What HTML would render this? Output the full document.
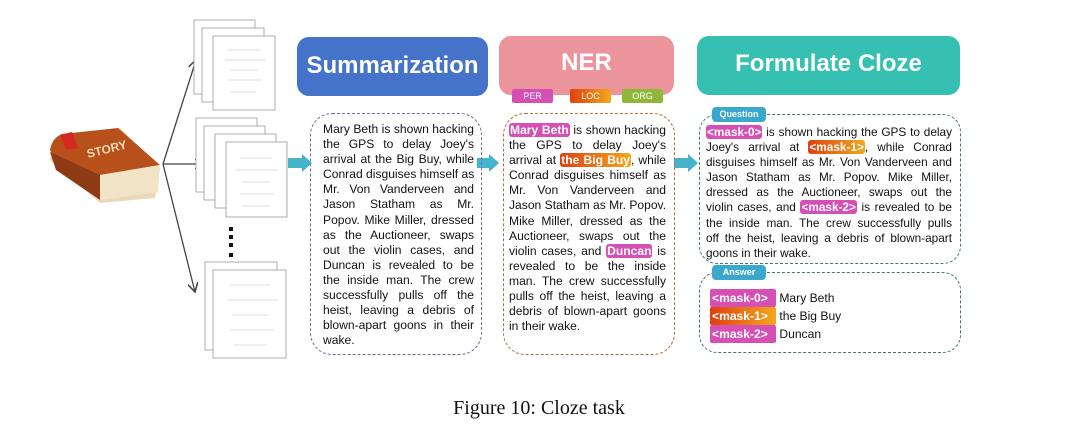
<!DOCTYPE html>
<html><head><meta charset="utf-8"><style>
body{margin:0;width:1078px;height:446px;background:#fff;position:relative;overflow:hidden;font-family:"Liberation Sans",sans-serif}
.abs{position:absolute}
.hdr{position:absolute;border-radius:12px;color:#fff;font-weight:bold;font-size:24px;text-align:center;line-height:58px}
.box{position:absolute;border:1.5px dashed;border-radius:22px}
.tx{position:absolute;font-size:12.1px;line-height:15.1px;color:#111}
.tx div{text-align:justify;text-align-last:justify;white-space:nowrap}
.tx div.l{text-align-last:left}
.hl{color:#fff;font-weight:bold;border-radius:3px;padding:0 1px}
.pe{background:#d64fb5}.lo{background:linear-gradient(90deg,#e0400f,#f2a81c)}
.tag{position:absolute;color:#fff;font-size:9px;text-align:center;line-height:14px;height:14px;border-radius:2px}
.lab{position:absolute;background:#3aa8cc;color:#fff;font-size:9px;font-weight:bold;text-align:center;border-radius:4px;height:15px;line-height:15px}
.m{display:inline-block;color:#fff;font-weight:bold;border-radius:2px;padding:0 2px}
</style></head><body>
<svg class="abs" style="left:0;top:0" width="1078" height="446">
<defs><marker id="a" markerWidth="8" markerHeight="8" refX="7" refY="4" orient="auto"><path d="M0,0 L7,4 L0,8" fill="none" stroke="#444" stroke-width="1.2"/></marker></defs>
<path d="M55,140 L120,128 L160,168 L155,198 L100,203 L50,160 Z" fill="#e9d9b8"/>
<path d="M50,150 Q52,138 62,134 L118,128 L160,165 L100,175 L55,160 Z" fill="#b8501c"/>
<path d="M100,175 L160,165 L158,192 L100,200 Z" fill="#f1e4c6"/>
<path d="M50,152 L100,175 L100,200 L56,170 Z" fill="#8e3a14"/>
<path d="M60,135 L72,132 L78,148 L66,150 Z" fill="#d62a20"/>
<text x="88" y="158" transform="rotate(-14 88 158)" font-size="12" font-weight="bold" fill="#f5d9b4">STORY</text>
<line x1="163" y1="164" x2="196" y2="60" stroke="#444" stroke-width="1.3" marker-end="url(#a)"/>
<line x1="163" y1="164" x2="204" y2="164" stroke="#444" stroke-width="1.3" marker-end="url(#a)"/>
<line x1="163" y1="164" x2="195" y2="292" stroke="#444" stroke-width="1.3" marker-end="url(#a)"/>
<g fill="#fff" stroke="#999" stroke-width="0.8">
<rect x="194" y="20" width="61" height="74"/><rect x="202" y="28" width="62" height="74"/><rect x="213" y="36" width="62" height="74"/>
<rect x="196" y="118" width="61" height="74"/><rect x="204" y="126" width="61" height="74"/><rect x="215" y="134" width="61" height="74"/><rect x="226" y="142" width="61" height="75"/>
<rect x="205" y="262" width="72" height="88"/><rect x="213" y="270" width="73" height="88"/>
</g>
<g stroke="#bbb" stroke-width="0.6">
<line x1="228" y1="50" x2="260" y2="50"/><line x1="225" y1="60" x2="265" y2="60"/><line x1="230" y1="70" x2="258" y2="70"/><line x1="228" y1="80" x2="262" y2="80"/><line x1="230" y1="92" x2="256" y2="92"/>
<line x1="240" y1="158" x2="272" y2="158"/><line x1="236" y1="170" x2="278" y2="170"/><line x1="242" y1="182" x2="270" y2="182"/><line x1="240" y1="194" x2="274" y2="194"/><line x1="242" y1="206" x2="270" y2="206"/>
<line x1="230" y1="285" x2="270" y2="285"/><line x1="228" y1="300" x2="278" y2="300"/><line x1="232" y1="315" x2="268" y2="315"/><line x1="230" y1="330" x2="274" y2="330"/><line x1="234" y1="345" x2="266" y2="345"/>
</g>
<g fill="#111"><rect x="229" y="227" width="4" height="4"/><rect x="229" y="235" width="4" height="4"/><rect x="229" y="243" width="4" height="4"/><rect x="229" y="253" width="4" height="4"/></g>
<g fill="#45b3cc">
<path d="M288,158 L302,158 L302,154 L312,163 L302,172 L302,168 L288,168 Z"/>
<path d="M477,158 L489,158 L489,154 L499,163 L489,172 L489,168 L477,168 Z"/>
<path d="M674,158 L688,158 L688,154 L698,163 L688,172 L688,168 L674,168 Z"/>
</g>
</svg>

<div class="hdr" style="left:297px;top:37px;width:191px;height:59px;background:#4473c9">Summarization</div>
<div class="hdr" style="left:499px;top:36px;width:175px;height:59px;background:#ec949b;line-height:54px">NER</div>
<div class="hdr" style="left:697px;top:36px;width:263px;height:59px;background:#35c0b2;line-height:56px">Formulate Cloze</div>
<div class="tag" style="left:512px;top:89px;width:41px;background:#d64fb5">PER</div>
<div class="tag" style="left:570px;top:89px;width:41px;background:linear-gradient(90deg,#e0400f,#f2a81c)">LOC</div>
<div class="tag" style="left:622px;top:89px;width:41px;background:#8fb83a">ORG</div>

<div class="box" style="left:310px;top:113px;width:170px;height:240px;border-color:#6b6fa8"></div>
<div class="box" style="left:503px;top:113px;width:170px;height:240px;border-color:#b0703a"></div>
<div class="box" style="left:699px;top:114px;width:260px;height:148px;border-color:#3a7a6a;border-radius:18px"></div>
<div class="box" style="left:699px;top:272px;width:260px;height:79px;border-color:#3a7a6a;border-radius:18px"></div>
<div class="lab" style="left:712px;top:107px;width:54px">Question</div>
<div class="lab" style="left:712px;top:265px;width:54px">Answer</div>

<div class="tx" style="left:323px;top:122px;width:151px">
<div>Mary Beth is shown hacking</div><div>the GPS to delay Joey's</div><div>arrival at the Big Buy, while</div><div>Conrad disguises himself as</div><div>Mr. Von Vanderveen and</div><div>Jason Statham as Mr.</div><div>Popov. Mike Miller, dressed</div><div>as the Auctioneer, swaps</div><div>out the violin cases, and</div><div>Duncan is revealed to be</div><div>the inside man. The crew</div><div>successfully pulls off the</div><div>heist, leaving a debris of</div><div>blown-apart goons in their</div><div class="l">wake.</div>
</div>
<div class="tx" style="left:509px;top:123px;width:157px">
<div><span class="hl pe">Mary Beth</span> is shown hacking</div><div>the GPS to delay Joey's</div><div>arrival at <span class="hl lo">the Big Buy</span>, while</div><div>Conrad disguises himself as</div><div>Mr. Von Vanderveen and</div><div>Jason Statham as Mr. Popov.</div><div>Mike Miller, dressed as the</div><div>Auctioneer, swaps out the</div><div>violin cases, and <span class="hl pe">Duncan</span> is</div><div>revealed to be the inside</div><div>man. The crew successfully</div><div>pulls off the heist, leaving a</div><div>debris of blown-apart goons</div><div class="l">in their wake.</div>
</div>
<div class="tx" style="left:706px;top:125px;width:246px;font-size:11.8px">
<div><span class="hl pe">&lt;mask-0&gt;</span> is shown hacking the GPS to delay</div><div>Joey's arrival at <span class="hl lo">&lt;mask-1&gt;</span>, while Conrad</div><div>disguises himself as Mr. Von Vanderveen and</div><div>Jason Statham as Mr. Popov. Mike Miller,</div><div>dressed as the Auctioneer, swaps out the</div><div>violin cases, and <span class="hl pe">&lt;mask-2&gt;</span> is revealed to be</div><div>the inside man. The crew successfully pulls</div><div>off the heist, leaving a debris of blown-apart</div><div class="l">goons in their wake.</div>
</div>
<div class="tx" style="left:710px;top:289px;line-height:18px">
<div class="l"><span class="m pe" style="width:62px">&lt;mask-0&gt;</span> Mary Beth</div>
<div class="l"><span class="m lo" style="width:62px">&lt;mask-1&gt;</span> the Big Buy</div>
<div class="l"><span class="m pe" style="width:62px">&lt;mask-2&gt;</span> Duncan</div>
</div>

<div class="abs" style="left:0;width:1078px;top:397px;text-align:center;font-family:'Liberation Serif',serif;font-size:20px;color:#111">Figure 10: Cloze task</div>
</body></html>
